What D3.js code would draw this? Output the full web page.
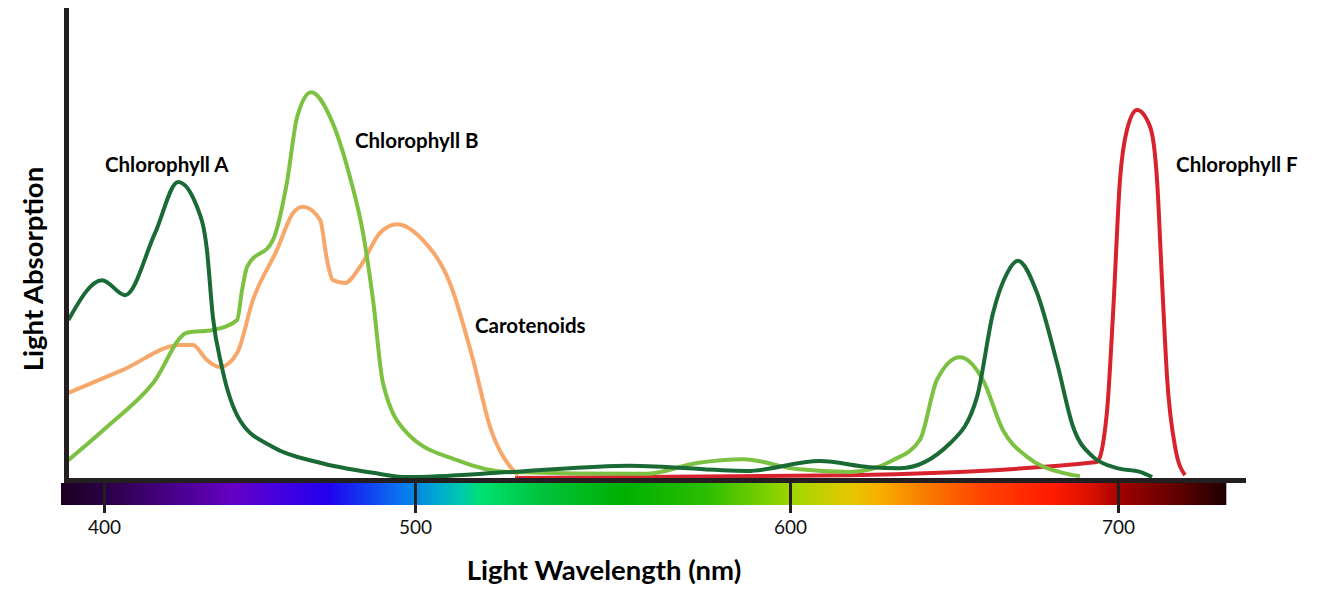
<!DOCTYPE html>
<html>
<head>
<meta charset="utf-8">
<script src="https://cdn.jsdelivr.net/npm/d3@7"></script>
<style>
  body { margin: 0; background: #fff; }
  svg { display: block; font-family: Lato, "Open Sans", sans-serif; }
  .label { font-weight: 700; font-size: 20.5px; fill: #000; }
  .axis-title { font-weight: 700; font-size: 27.5px; fill: #000; }
</style>
</head>
<body>
<div id="chart"></div>
<script>
// wavelength (nm) / relative absorption (0-100)
var chlA = [
  [388.4,33.6],[399.4,42.1],[406.8,38.9],[416.4,52.1],[423.8,63.0],[429.9,57.7],
  [433.1,48.5],[435.0,34.3],[437.9,23.6],[443.7,12.3],[454.3,6.6],[468.5,3.4],
  [486.5,1.1],[497.4,0.2],[526.1,1.3],[557.3,2.6],[588.5,1.5],[609.1,3.6],
  [624.4,2.3],[633.5,2.1],[648.8,7.4],[657.0,17.2],[661.9,35.1],[666.2,43.6],
  [669.5,46.2],[675.3,39.4],[681.4,24.5],[686.3,10.9],[692.4,4.5],[699.7,2.1],
  [706.7,1.3],[710.4,0.2]
]
var chlB = [
  [388.4,3.8],[401.0,10.9],[415.8,20.2],[426.7,30.9],[435.0,31.5],[442.8,33.6],
  [444.4,40.0],[446.0,44.9],[454.3,50.6],[458.8,62.8],[462.1,76.8],[466.6,82.1],
  [472.7,76.8],[479.1,64.0],[483.3,52.1],[486.5,37.9],[489.7,20.2],[497.4,9.6],
  [511.2,3.8],[524.5,1.3],[561.9,0.9],[575.2,3.2],[587.5,4.0],[602.1,1.9],
  [618.3,1.3],[631.4,3.8],[639.6,8.1],[644.8,20.9],[651.8,25.7],[658.8,20.9],
  [664.9,10.2],[672.3,4.5],[683.2,1.1],[688.4,0.4]
]
var carot = [
  [388.4,18.1],[406.1,23.0],[424.4,28.3],[428.6,28.3],[433.1,25.1],[437.3,23.6],
  [442.8,26.6],[447.9,37.9],[455.6,48.5],[460.8,56.4],[464.0,57.7],[469.5,54.9],
  [471.7,46.4],[473.6,42.1],[477.5,41.5],[482.3,44.9],[488.7,52.1],[494.2,54.0],
  [502.1,50.6],[509.3,41.5],[515.5,25.1],[520.0,10.9],[526.1,1.7],[527.5,0.6]
]
var chlF = [
  [526.7,0.0],[618.3,0.6],[693.6,3.4],[696.6,13.8],[698.5,35.1],[700.6,63.4],
  [702.7,74.0],[705.8,78.3],[709.8,74.7],[711.9,63.4],[713.4,42.1],[715.0,20.9],
  [717.4,6.6],[720.4,0.6]
]
var tickValues = [400, 500, 600, 700]
var spectrum = [
  [386,'#1a0022'],[400,'#2a0044'],[428,'#50009a'],[441,'#6600c4'],[454,'#4a00dc'],
  [472,'#2200ee'],[485,'#1040f2'],[495,'#0a72ee'],[505,'#00a2d6'],[512,'#00c8b0'],
  [518,'#00e070'],[534,'#00c23c'],[556,'#00b000'],[578,'#2cbe00'],[594,'#7ed000'],
  [603,'#a8d600'],[618,'#e4c800'],[627,'#f8b000'],[640,'#f88000'],[658,'#ff4400'],
  [680,'#ff1a00'],[692,'#d81000'],[702,'#9c0000'],[720,'#580000'],[733,'#1e0000']
]

var W = 1336, H = 590

var x = d3.scaleLinear()
  .domain([386, 400, 500, 600, 700, 739])
  .range([61, 104, 415, 790, 1118, 1246])
var y = d3.scaleLinear().domain([0, 100]).range([478, 8])

var svg = d3.select('#chart').append('svg')
  .attr('width', W)
  .attr('height', H)

var defs = svg.append('defs')
var grad = defs.append('linearGradient')
  .attr('id', 'spectrum')
  .attr('gradientUnits', 'userSpaceOnUse')
  .attr('x1', x(386)).attr('x2', x(733))
  .attr('y1', 0).attr('y2', 0)
grad.selectAll('stop').data(spectrum).enter().append('stop')
  .attr('offset', d => (x(d[0]) - x(386)) / (x(733) - x(386)))
  .attr('stop-color', d => d[1])

// spectrum bar under the axis
svg.append('rect')
  .attr('x', x(386))
  .attr('y', 483)
  .attr('width', x(733) - x(386))
  .attr('height', 22)
  .attr('fill', 'url(#spectrum)')

var xAxis = d3.axisBottom(x)
  .tickValues(tickValues)
  .tickSize(30)
  .tickPadding(8)
  .tickFormat(d3.format('d'))

svg.append('g')
  .attr('class', 'axis axis--x')
  .attr('transform', 'translate(0,483)')
  .call(xAxis)
  .call(g => g.select('.domain').remove())
  .call(g => g.selectAll('.tick line').attr('stroke', '#231f20').attr('stroke-width', 3))
  .call(g => g.selectAll('.tick text')
    .attr('fill', '#111')
    .attr('font-family', 'Lato, sans-serif')
    .attr('font-size', 19))

var line = d3.line()
  .x(d => x(d[0]))
  .y(d => y(d[1]))
  .curve(d3.curveMonotoneX)

var series = [
  {name: 'Chlorophyll F', data: chlF, color: '#d7232e'},
  {name: 'Carotenoids', data: carot, color: '#f7a76a'},
  {name: 'Chlorophyll B', data: chlB, color: '#7dc143'},
  {name: 'Chlorophyll A', data: chlA, color: '#1a6a35'}
]

svg.selectAll('.curve').data(series).enter()
  .append('path')
  .attr('class', 'curve')
  .attr('d', d => line(d.data))
  .attr('fill', 'none')
  .attr('stroke', d => d.color)
  .attr('stroke-width', 4)
  .attr('stroke-linejoin', 'round')

// axis lines
svg.append('line')
  .attr('x1', 64).attr('x2', x(739))
  .attr('y1', 480.5).attr('y2', 480.5)
  .attr('stroke', '#231f20').attr('stroke-width', 5)
svg.append('line')
  .attr('x1', 66.5).attr('x2', 66.5)
  .attr('y1', 8).attr('y2', 483)
  .attr('stroke', '#231f20').attr('stroke-width', 5)

// curve labels (baseline positions)
var labels = [
  {text: 'Chlorophyll A', wl: 400.3, v: 65.1},
  {text: 'Chlorophyll B', wl: 480.7, v: 70.2},
  {text: 'Carotenoids', wl: 516.0, v: 30.9},
  {text: 'Chlorophyll F', wl: 717.7, v: 65.1}
]
svg.selectAll('.label').data(labels).enter()
  .append('text')
  .attr('class', 'label')
  .attr('x', d => x(d.wl))
  .attr('y', d => y(d.v))
  .text(d => d.text)

svg.append('text')
  .attr('class', 'axis-title')
  .attr('x', 604)
  .attr('y', 580)
  .attr('text-anchor', 'middle')
  .text('Light Wavelength (nm)')

svg.append('text')
  .attr('class', 'axis-title')
  .attr('transform', 'translate(43,269) rotate(-90)')
  .attr('text-anchor', 'middle')
  .text('Light Absorption')
</script>
</body>
</html>
